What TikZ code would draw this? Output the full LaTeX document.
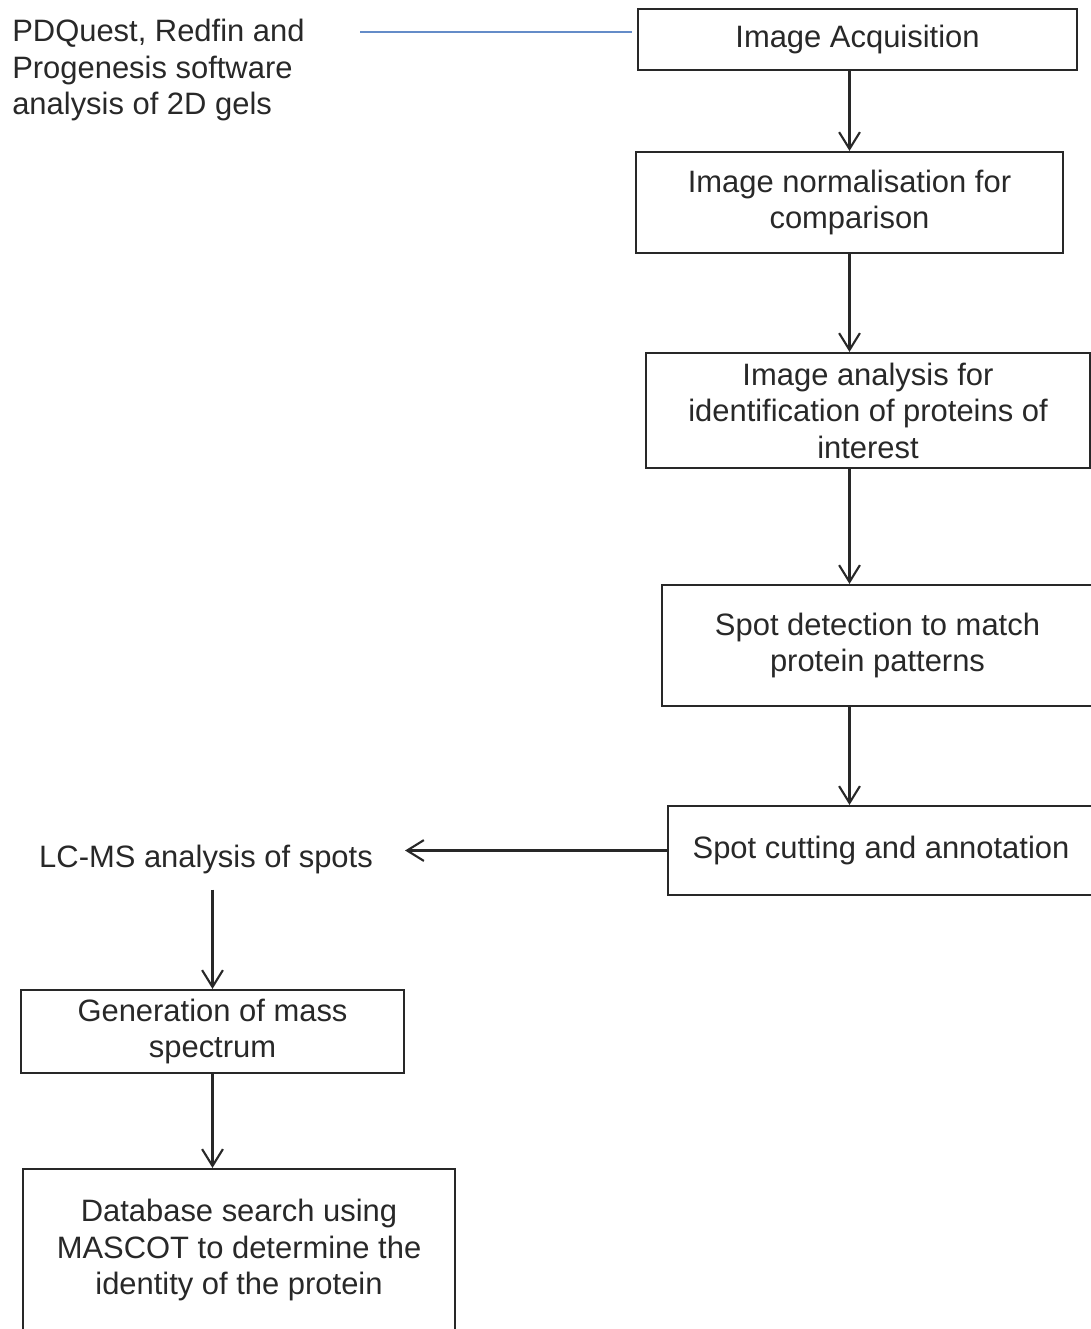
\documentclass[tikz,border=0pt]{standalone}
\usepackage{fontspec}
\setmainfont{Liberation Sans}
\usepackage{tikz}
\usetikzlibrary{arrows.meta, positioning, calc}
\usepackage{xcolor}
\definecolor{inkGray}{RGB}{40,40,40}
\definecolor{linkBlue}{RGB}{100,140,200}

\begin{document}
\begin{tikzpicture}[
  x=0.025cm, y=-0.025cm,
  box/.style={
    rectangle, draw=inkGray, line width=1.5pt,
    inner sep=0pt, align=center, text=inkGray,
    font=\fontsize{22}{26}\selectfont
  },
  plain/.style={
    inner sep=0pt, text=inkGray,
    font=\fontsize{22}{26}\selectfont
  },
  arr/.style={-{Straight Barb[length=0.42cm, width=0.52cm, line width=1.5pt]},
    line width=1.5pt, inkGray}
]
  \useasboundingbox (0,0) rectangle (1091,1329);
  \clip (0,0) rectangle (1091,1329);

  % right column
  \node[box, minimum width=10.975cm, minimum height=1.525cm]
    (acq) at (857.5,39.5) {Image Acquisition};
  \node[box, minimum width=10.675cm, minimum height=2.525cm]
    (norm) at (849.5,202.5) {Image normalisation for\\comparison};
  \node[box, minimum width=11.1cm, minimum height=2.875cm]
    (ident) at (868,410.5)
    {Image analysis for\\identification of proteins of\\interest};
  \node[box, minimum width=10.775cm, minimum height=3.025cm]
    (detect) at (877.5,645.5) {Spot detection to match\\protein patterns};
  \node[box, minimum width=10.65cm, minimum height=2.225cm]
    (cut) at (881,850.5) {Spot cutting and annotation};

  \foreach \a/\b in {acq/norm, norm/ident, ident/detect, detect/cut}
    \draw[arr] (\a.south -| norm.south) -- (\b.north -| norm.south);

  % software note
  \node[plain, align=left, anchor=west] (soft) at (12,70)
    {PDQuest, Redfin and\\Progenesis software\\analysis of 2D gels};
  \coordinate (softEnd) at (360,32);
  \draw[linkBlue, line width=1.5pt, shorten >=5*0.025cm]
    (softEnd) -- (softEnd -| acq.west);

  % left column
  \node[plain, inner xsep=0.8cm, inner ysep=0.4cm]
    (lcms) at (206,859) {LC-MS analysis of spots};
  \node[box, minimum width=9.575cm, minimum height=2.075cm]
    (mass) at (212.5,1031.5) {Generation of mass\\spectrum};
  \node[box, minimum width=10.8cm, minimum height=4.05cm]
    (mascot) at (239,1250)
    {Database search using\\MASCOT to determine the\\identity of the protein};

  \draw[arr] (cut.west) -- (cut.west -| lcms.east);
  \draw[arr] (lcms.south -| mass.north) -- (mass.north);
  \draw[arr] (mass.south) -- (mass.south |- mascot.north);
\end{tikzpicture}
\end{document}
